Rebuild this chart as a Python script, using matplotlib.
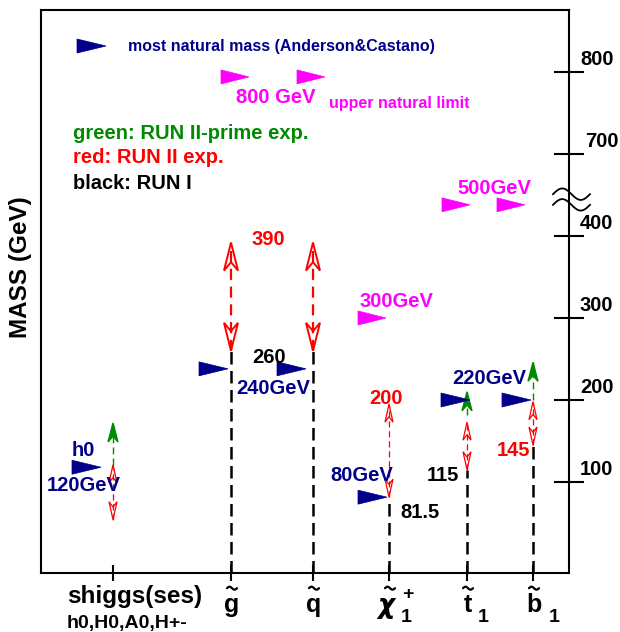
import numpy as np
import matplotlib.pyplot as plt
from matplotlib.patches import Polygon

plt.rcParams['font.family'] = ['Liberation Sans', 'DejaVu Sans']
plt.rcParams['font.weight'] = 'bold'
plt.rcParams['mathtext.fontset'] = 'dejavusans'

# ---- data (GeV, as drawn on the broken axis: 700/800 sit at 500/600) ----
columns = ['shiggs', 'gluino', 'squark', 'chargino', 'stop', 'sbottom']
run1_limit = [None, 260, 260, 81.5, 115, 145]
run2_range = [(54, 121), (260, 392), (260, 392), (81.5, 195), (115, 173), (145, 198)]
run2p_range = [(121, 172), None, None, None, (182, 210), (200, 246)]
natural_mass = [118, 238, 238, 81.5, 200, 200]
upper_limit = [594, 594, 300, 438, 438]
axis_ticks = [100, 200, 300, 400, 500, 600]
axis_labels = ['100', '200', '300', '400', '700', '800']

# ---- layout ----
PX = 0.82  # pixels per axis unit
col_x = [113, 231, 313, 389, 467, 533]
blue_tail = [72, 199, 277, 358, 441, 502]
magenta_tail = [221, 297, 358, 442, 497]
big_heads = [False, True, True, False, False, False]

NAVY = '#00008b'
MAG = '#ff00ff'
GREEN = '#008a00'
RED = '#ff0000'

labels = [
    ('most natural mass (Anderson&Castano)', 128, 630.5, NAVY, 11.5, 'left'),
    ('800 GeV', 236, 569.5, MAG, 14.5, 'left'),
    ('upper natural limit', 329, 562, MAG, 11.5, 'left'),
    ('green: RUN II-prime exp.', 73, 525.6, GREEN, 14.5, 'left'),
    ('red: RUN II exp.', 73, 496.3, RED, 14.5, 'left'),
    ('black: RUN I', 73, 464.6, 'black', 14.5, 'left'),
    ('500GeV', 457, 458.5, MAG, 14.5, 'left'),
    ('390', 252, 396.3, RED, 14.5, 'left'),
    ('300GeV', 359, 320.7, MAG, 14.5, 'left'),
    ('260', 252, 252.4, 'black', 14.5, 'left'),
    ('240GeV', 236, 214.6, NAVY, 14.5, 'left'),
    ('220GeV', 452, 226.8, NAVY, 14.5, 'left'),
    ('200', 369, 202.4, RED, 14.5, 'left'),
    ('h0', 72, 139, NAVY, 14.5, 'left'),
    ('145', 497, 139, RED, 14.5, 'left'),
    ('80GeV', 393, 108.5, NAVY, 14.5, 'right'),
    ('115', 427, 108.5, 'black', 14.5, 'left'),
    ('120GeV', 47, 96.3, NAVY, 14.5, 'left'),
    ('81.5', 400, 63.4, 'black', 14.5, 'left'),
]


def arrow_right(ax, tail, y, color, length=29, height=14):
    h = height / 2 / PX
    ax.add_patch(Polygon([(tail, y - h), (tail, y + h), (tail + length, y)],
                         closed=True, facecolor=color, edgecolor=color,
                         lw=0.5, zorder=5, clip_on=False))


def head(ax, x, tip, direction, length, width, color, fill, lw=1.0):
    # direction +1 points up, -1 points down
    L = length / PX
    base = tip - direction * L
    notch = tip - direction * L * 0.7
    pts = [(x, tip), (x - width / 2, base), (x, notch), (x + width / 2, base)]
    ax.add_patch(Polygon(pts, closed=True, facecolor=color if fill else 'none',
                         edgecolor=color, lw=lw, zorder=4))


fig = plt.figure(figsize=(6.2, 6.32), dpi=100)
ax = fig.add_axes([41 / 620, 1 - 573 / 632, 528 / 620, 563 / 632])
ax.set_xlim(41, 569)
ax.set_ylim((564 - 573) / PX, (564 - 10) / PX)
for s in ax.spines.values():
    s.set_linewidth(1.5)

ax.set_xticks(col_x)
ax.tick_params(axis='x', direction='inout', length=11.5, width=1.5, labelbottom=False)
ax.yaxis.tick_right()
ax.set_yticks(axis_ticks)
ax.tick_params(axis='y', direction='inout', length=21.6, width=1.5, labelright=False)
for t, lab in zip(axis_ticks, axis_labels):
    ax.text(580 if lab != '700' else 585, t + 15, lab, fontsize=14.5,
            ha='left', va='center', clip_on=False)

# axis break on the right
t = np.linspace(0, 1, 60)
for yc in (451, 438):
    ax.plot(553 + 37 * t, yc + 7 * np.sin(2 * np.pi * t), color='black', lw=1.3, clip_on=False)

ymin = ax.get_ylim()[0]
for i, x in enumerate(col_x):
    big = big_heads[i]
    if run1_limit[i] is not None:
        ax.plot([x, x], [ymin, run1_limit[i]], color='black', lw=1.8,
                linestyle=(0, (5, 2.6)), zorder=3)
    lo, hi = run2_range[i]
    ax.plot([x, x], [lo, hi], color=RED, lw=1.6 if big else 0.9,
            linestyle=(0, (5, 3)), zorder=3)
    hl, hw = (28, 14) if big else (18, 8)
    head(ax, x, hi, 1, hl, hw, RED, False, 1.4 if big else 0.9)
    head(ax, x, lo, -1, hl, hw, RED, False, 1.4 if big else 0.9)
    if run2p_range[i] is not None:
        glo, ghi = run2p_range[i]
        ax.plot([x, x], [glo, ghi], color=GREEN, lw=1.0, linestyle=(0, (5, 3)), zorder=3)
        head(ax, x, ghi, 1, 19, 10, GREEN, True)

for tail, m in zip(blue_tail, natural_mass):
    arrow_right(ax, tail, m, NAVY)
for tail, m in zip(magenta_tail, upper_limit):
    arrow_right(ax, tail, m, MAG, length=28)
arrow_right(ax, 77, 631.7, NAVY)

for text, x, y, c, size, ha in labels:
    ax.text(x, y, text, color=c, fontsize=size, ha=ha, va='center', zorder=6)

ax.text(21, 362, 'MASS (GeV)', rotation=90, fontsize=17.5, ha='center', va='center', clip_on=False)

# category labels under the axis
ax.text(67, -40, 'shiggs(ses)', fontsize=17.5, ha='left', va='center', clip_on=False)
ax.text(67, -72, 'h0,H0,A0,H+-', fontsize=14, ha='left', va='center', clip_on=False)
tt = np.linspace(0, 1, 30)
for x, letter in zip(col_x[1:], ['g', 'q', r'$\chi$', 't', 'b']):
    if '$' in letter:
        ax.text(x - 2, -60, letter, fontsize=19, fontweight='normal',
                ha='center', va='baseline', clip_on=False)
    else:
        ax.text(x + 1, -58.5, letter, fontsize=18, ha='center', va='baseline', clip_on=False)
    # tilde accent
    ax.plot(x - 4 + 10 * tt, -29.5 + 1.8 * np.sin(2 * np.pi * tt), color='black',
            lw=1.6, clip_on=False, solid_capstyle='round')
ax.text(402, -36.6, '+', fontsize=14, ha='left', va='center', clip_on=False)
for x in (401, 478, 549):
    ax.text(x, -71, '1', fontsize=14, ha='left', va='baseline', clip_on=False)

fig.savefig('out.png', dpi=100)
